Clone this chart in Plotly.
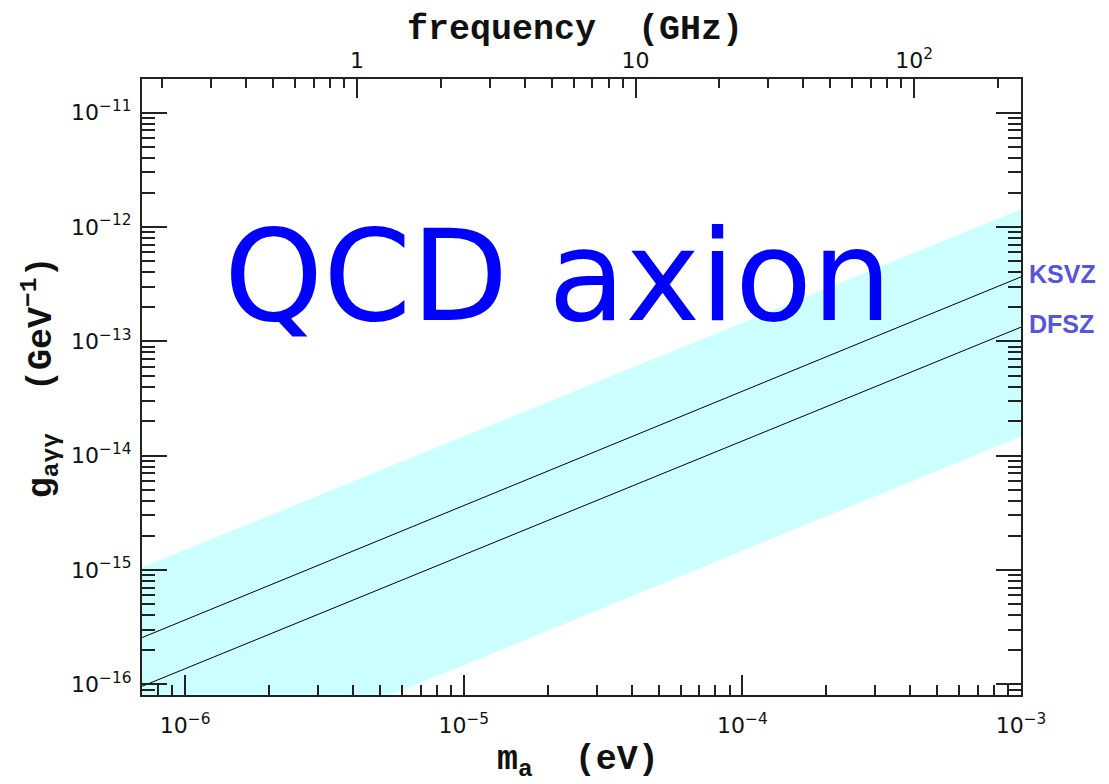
import numpy as np
import plotly.graph_objects as go

# ---------------- data ----------------
mass_eV = [7.0e-7, 1.0e-3]                 # axion mass endpoints (eV)
band_upper = [1.05e-15, 1.43e-12]          # upper edge of QCD axion band (GeV^-1)
band_lower = [1.03e-17, 1.47e-14]          # lower edge of QCD axion band (GeV^-1)
ksvz = [2.56e-16, 3.66e-13]                # KSVZ line
dfsz = [9.6e-17, 1.33e-13]                 # DFSZ line
model_names = ["KSVZ", "DFSZ"]

x_range_eV = [7.0e-7, 1.0e-3]
y_range = [8.06e-17, 1.97e-11]
ev_per_ghz = 4.1357e-6                     # photon energy for 1 GHz (eV)

y_major = [1e-16, 1e-15, 1e-14, 1e-13, 1e-12, 1e-11]
y_major_text = ["10<sup>−16</sup>", "10<sup>−15</sup>", "10<sup>−14</sup>",
                "10<sup>−13</sup>", "10<sup>−12</sup>", "10<sup>−11</sup>"]
x_major = [1e-6, 1e-5, 1e-4, 1e-3]
x_major_text = ["10<sup>−6</sup>", "10<sup>−5</sup>", "10<sup>−4</sup>", "10<sup>−3</sup>"]
f_major = [1, 10, 100]
f_major_text = ["1", "10", "10<sup>2</sup>"]


def minor_ticks(decades):
    return [m * 10.0 ** d for d in decades for m in range(2, 10)]


y_minor = minor_ticks(range(-17, -10))
x_minor = minor_ticks(range(-7, -3))
f_minor = minor_ticks(range(-1, 3))

AX = "#222222"
TICKFONT = dict(family="DejaVu Sans", size=22, color="#111111")
TITLEFONT = dict(family="Courier New, Liberation Mono, monospace", size=35, color="#111111")

fig = go.Figure()

# QCD axion band
fig.add_trace(go.Scatter(
    x=mass_eV + mass_eV[::-1],
    y=band_upper + band_lower[::-1],
    fill="toself", fillcolor="#ccffff",
    line=dict(width=0), mode="lines",
    hoverinfo="skip", showlegend=False,
))

# model lines
for vals in (ksvz, dfsz):
    fig.add_trace(go.Scatter(
        x=mass_eV, y=vals, mode="lines",
        line=dict(color="black", width=1),
        hoverinfo="skip", showlegend=False,
    ))

# invisible trace to activate top frequency axis
fig.add_trace(go.Scatter(
    x=[m / ev_per_ghz for m in mass_eV], y=ksvz, xaxis="x2",
    mode="lines", line=dict(width=0), opacity=0,
    hoverinfo="skip", showlegend=False,
))

fig.update_layout(
    width=1101, height=776,
    margin=dict(l=134, r=88, t=71, b=89),
    paper_bgcolor="white", plot_bgcolor="white",
    showlegend=False,
    xaxis=dict(
        type="log",
        range=[np.log10(x_range_eV[0]), np.log10(x_range_eV[1])],
        showgrid=False, zeroline=False,
        showline=True, linecolor=AX, linewidth=2, mirror=False,
        ticks="inside", ticklen=20, tickwidth=1.5, tickcolor=AX,
        tickmode="array", tickvals=x_major, ticktext=x_major_text,
        tickfont=TICKFONT, ticklabelstandoff=10,
        minor=dict(ticks="inside", ticklen=10, tickwidth=1.5, tickcolor=AX,
                   tickmode="array", tickvals=x_minor, showgrid=False),
    ),
    xaxis2=dict(
        type="log", overlaying="x", side="top", anchor="y",
        range=[np.log10(x_range_eV[0] / ev_per_ghz), np.log10(x_range_eV[1] / ev_per_ghz)],
        showgrid=False, zeroline=False,
        showline=True, linecolor=AX, linewidth=2,
        ticks="inside", ticklen=19, tickwidth=1.5, tickcolor=AX,
        tickmode="array", tickvals=f_major, ticktext=f_major_text,
        tickfont=TICKFONT, ticklabelstandoff=0,
        minor=dict(ticks="inside", ticklen=9, tickwidth=1.5, tickcolor=AX,
                   tickmode="array", tickvals=f_minor, showgrid=False),
    ),
    yaxis=dict(
        type="log",
        range=[np.log10(y_range[0]), np.log10(y_range[1])],
        showgrid=False, zeroline=False,
        showline=True, linecolor=AX, linewidth=2, mirror="ticks",
        ticks="inside", ticklen=25, tickwidth=1.5, tickcolor=AX,
        tickmode="array", tickvals=y_major, ticktext=y_major_text,
        tickfont=TICKFONT, ticklabelstandoff=4,
        minor=dict(ticks="inside", ticklen=13, tickwidth=1.5, tickcolor=AX,
                   tickmode="array", tickvals=y_minor, showgrid=False),
    ),
)

annotations = [
    dict(text="QCD axion", xref="paper", yref="paper", x=0.4727, y=0.679,
         xanchor="center", yanchor="middle", showarrow=False,
         font=dict(family="DejaVu Sans", size=126, color="#0000ff")),
    dict(text="<b>frequency  (GHz)</b>", xref="paper", yref="paper", x=0.493, y=1.079,
         xanchor="center", yanchor="middle", showarrow=False, font=TITLEFONT),
    dict(text="<b>m<sub>a</sub>  (eV)</b>", xref="paper", yref="paper", x=0.496, y=-0.108,
         xanchor="center", yanchor="middle", showarrow=False, font=TITLEFONT),
    dict(text="<b>g<sub>aγγ</sub>  (GeV<sup>−1</sup>)</b>", xref="paper", yref="paper",
         x=-0.116, y=0.516, xanchor="center", yanchor="middle", textangle=-90,
         showarrow=False, font=TITLEFONT),
]
for name, vals in zip(model_names, (ksvz, dfsz)):
    annotations.append(dict(
        text=f"<b>{name}</b>", xref="paper", yref="y", x=1.007, y=np.log10(vals[-1]),
        xanchor="left", yanchor="middle", yshift=3, showarrow=False,
        font=dict(family="Liberation Sans, Arial", size=25, color="#5555dd"),
    ))
fig.update_layout(annotations=annotations)

fig.write_html("out.html")
